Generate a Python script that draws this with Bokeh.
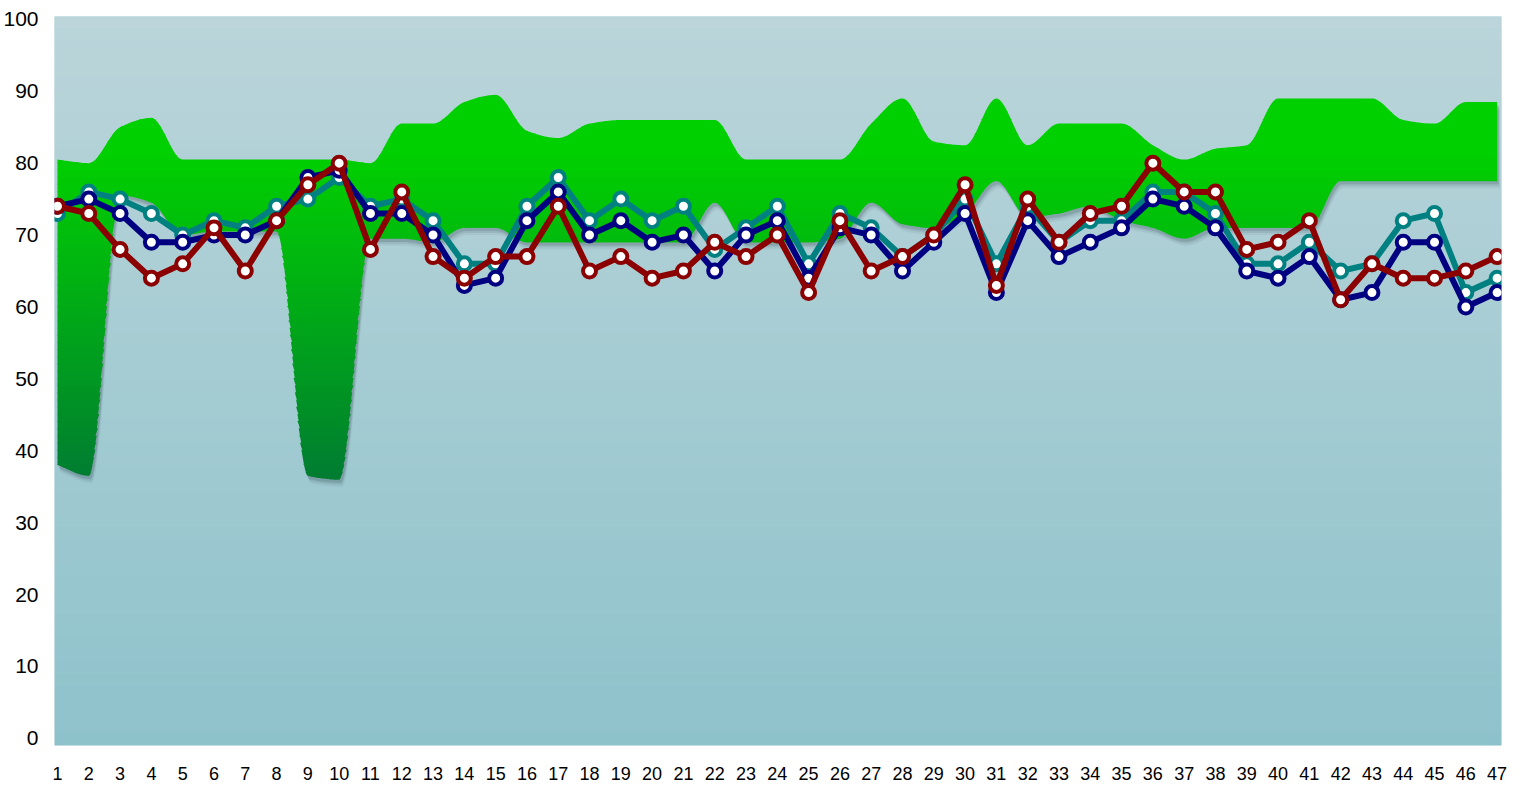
import numpy as np
from bokeh.plotting import figure
from bokeh.models import FixedTicker, Range1d
from bokeh.embed import file_html
from bokeh.resources import INLINE

# ---------------- data ----------------
categories = list(range(1, 48))

band_upper = [80.5, 80, 85, 86.3, 80.5, 80.5, 80.5, 80.5, 80.5, 80.5,
              80, 85.5, 85.5, 88.5, 89.5, 84.5, 83.5, 85.5, 86, 86,
              86, 86, 80.5, 80.5, 80.5, 80.5, 85.5, 89, 83, 82.5,
              89, 82.5, 85.5, 85.5, 85.5, 82.5, 80.5, 82, 82.5, 89,
              89, 89, 89, 86, 85.5, 88.5, 88.5]

band_lower = [38, 36.5, 75.5, 74.5, 70, 70.5, 70.5, 70.5, 36.5, 36,
              69.5, 69.5, 69, 71, 71, 69, 69, 69, 69, 69,
              69, 74.5, 69, 69, 69, 69.5, 74.5, 71.5, 71, 73,
              77.5, 72.5, 73, 74, 72, 71, 69.5, 71, 71, 71,
              71, 77.5, 77.5, 77.5, 77.5, 77.5, 77.5]

teal_series = [73, 76, 75, 73, 70, 72, 71, 74, 75, 78,
               74, 75, 72, 66, 66, 74, 78, 72, 75, 72,
               74, 68, 71, 74, 66, 73, 71, 67, 70, 75,
               66, 74, 69, 72, 72, 76, 76, 73, 66, 66,
               69, 65, 66, 72, 73, 62, 64]

navy_series = [74, 75, 73, 69, 69, 70, 70, 72, 78, 79,
               73, 73, 70, 63, 64, 72, 76, 70, 72, 69,
               70, 65, 70, 72, 64, 71, 70, 65, 69, 73,
               62, 72, 67, 69, 71, 75, 74, 71, 65, 64,
               67, 61, 62, 69, 69, 60, 62]

red_series = [74, 73, 68, 64, 66, 71, 65, 72, 77, 80,
              68, 76, 67, 64, 67, 67, 74, 65, 67, 64,
              65, 69, 67, 70, 62, 72, 65, 67, 70, 77,
              63, 75, 69, 73, 74, 80, 76, 76, 68, 69,
              72, 61, 66, 64, 64, 65, 67]

y_ticks = [0, 10, 20, 30, 40, 50, 60, 70, 80, 90, 100]

# ---------------- helpers (rendering only) ----------------
def pchip(x, y, xs):
    x = np.asarray(x, float); y = np.asarray(y, float)
    h = np.diff(x); delta = np.diff(y) / h
    n = len(x); d = np.zeros(n)
    for k in range(1, n - 1):
        if delta[k - 1] * delta[k] > 0:
            w1 = 2 * h[k] + h[k - 1]; w2 = h[k] + 2 * h[k - 1]
            d[k] = (w1 + w2) / (w1 / delta[k - 1] + w2 / delta[k])
    d[0] = delta[0]; d[-1] = delta[-1]
    idx = np.clip(np.searchsorted(x, xs) - 1, 0, n - 2)
    t = (xs - x[idx]) / h[idx]
    h00 = 2 * t**3 - 3 * t**2 + 1; h10 = t**3 - 2 * t**2 + t
    h01 = -2 * t**3 + 3 * t**2; h11 = t**3 - t**2
    return (h00 * y[idx] + h10 * h[idx] * d[idx] + h01 * y[idx + 1] + h11 * h[idx] * d[idx + 1])

def hexc(r, g, b):
    return "#%02x%02x%02x" % (int(round(r)), int(round(g)), int(round(b)))

# ---------------- figure ----------------
x_lo, x_hi = 0.904, 47.14
y_lo, y_hi = -1.0, 100.4

p = figure(width=1522, height=782, output_backend="svg", toolbar_location=None,
           x_range=Range1d(x_lo, x_hi), y_range=Range1d(y_lo, y_hi),
           min_border_left=47, min_border_right=21, min_border_top=16, min_border_bottom=37)
p.outline_line_color = None
p.grid.visible = False
p.background_fill_color = "#a6cdd4"
p.border_fill_color = "white"

# background vertical gradient
nbg = 60
edges = np.linspace(y_lo, y_hi, nbg + 1)
top_c = np.array([187, 213, 218]); bot_c = np.array([142, 194, 203])
bg_cols = []
for k in range(nbg):
    t = (0.5 * (edges[k] + edges[k + 1]) - y_lo) / (y_hi - y_lo)
    c = bot_c + (top_c - bot_c) * t
    bg_cols.append(hexc(*c))
p.quad(left=x_lo, right=x_hi, bottom=edges[:-1], top=edges[1:] + 0.05,
       fill_color=bg_cols, line_color=None)

# smooth band
xs = np.linspace(1, 47, 46 * 24 + 1)
up = pchip(categories, band_upper, xs)
lo = pchip(categories, band_lower, xs)

# shadow (soft, offset down-right)
for off, dx, alpha in [(1.0, 0.09, 0.06), (0.7, 0.07, 0.09), (0.45, 0.05, 0.14)]:
    p.varea(x=xs + dx, y1=lo - off, y2=up - off, fill_color="#1a2a35", fill_alpha=alpha)

# band with vertical gradient (horizontal slices)
v0, v1 = 34.0, 91.0
nsl = 57
sl = np.linspace(v0, v1, nsl + 1)
for k in range(nsl):
    a, b = sl[k], sl[k + 1] + 0.12
    mid = 0.5 * (sl[k] + sl[k + 1])
    t = np.clip((82 - mid) / (82 - 36), 0, 1) ** 1.1
    col = hexc(0, 208 - t * (208 - 124), t * 50)
    y1 = np.clip(lo, a, b); y2 = np.clip(up, a, b)
    if np.all(y2 - y1 <= 1e-9):
        continue
    p.varea(x=xs, y1=y1, y2=y2, fill_color=col)

# series
series = [(teal_series, "#008080"), (navy_series, "#000080"), (red_series, "#8b0000")]
for vals, col in series:
    p.line(categories, vals, line_color=col, line_width=6, line_join="round")
    p.scatter(categories, vals, marker="circle", size=13, fill_color="white",
              line_color=col, line_width=4)

# axes
p.xaxis.ticker = FixedTicker(ticks=categories)
p.yaxis.ticker = FixedTicker(ticks=y_ticks)
for ax in (p.xaxis, p.yaxis):
    ax.axis_line_color = None
    ax.major_tick_line_color = None
    ax.minor_tick_line_color = None
    ax.major_label_text_color = "black"
p.xaxis.major_label_text_font = "Liberation Sans"
p.xaxis.major_label_text_font_size = "18px"
p.xaxis.major_label_standoff = 15
p.yaxis.major_label_text_font = "Liberation Sans"
p.yaxis.major_label_text_font_size = "21px"
p.yaxis.major_label_standoff = 10

open("out.html", "w").write(file_html(p, INLINE))
